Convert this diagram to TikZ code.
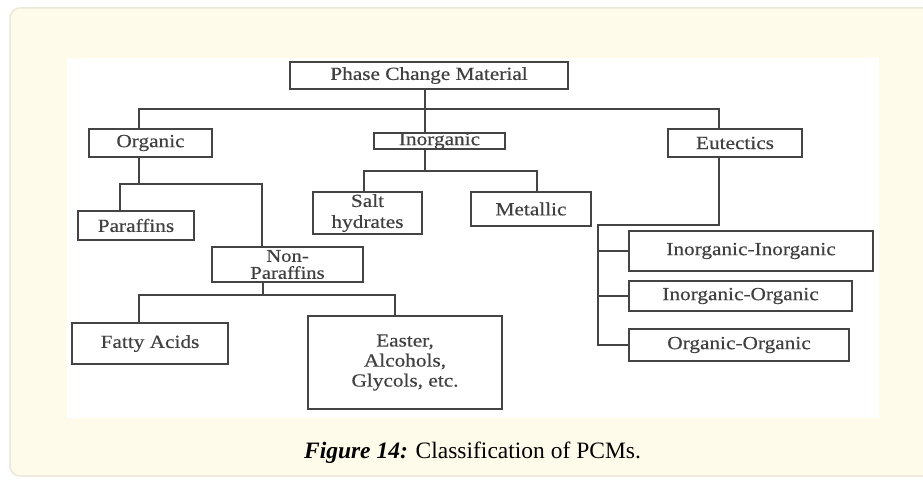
\documentclass[tikz,border=0pt]{standalone}
\usepackage{fontspec}
\setmainfont{Liberation Serif}
\newfontfamily\diagfont{Liberation Serif}[FakeStretch=1.15,FakeBold=0.4]
\definecolor{cream}{HTML}{FFFBEA}
\definecolor{panelborder}{HTML}{ECE8DA}
\definecolor{lineclr}{HTML}{444444}
\definecolor{txtclr}{HTML}{404040}
\begin{document}
\begin{tikzpicture}[x=1pt,y=-1pt,
  box/.style={draw=lineclr, line width=1.3pt, rectangle, inner sep=0pt, align=center,
    text=txtclr, font=\diagfont\fontsize{18.5}{21}\selectfont},
  conn/.style={draw=lineclr, line width=1.3pt}]
\useasboundingbox (0,0) rectangle (923,486);
\fill[white] (0,0) rectangle (923,486);
\draw[panelborder, fill=cream, line width=1.5pt, rounded corners=10pt] (10,8) rectangle (940,476);
\fill[white] (67,58) rectangle (879,418);
% boxes
\node[box, minimum width=278pt, minimum height=27pt] (pcm) at (429,75.5) {Phase Change Material};
\node[box, minimum width=123pt, minimum height=28pt] (org) at (150.5,143) {Organic};
\node[box, minimum width=131pt, minimum height=16pt] (inorg) at (439.5,141) {Inorganic};
\node[box, minimum width=134pt, minimum height=28pt] (eut) at (735,143) {Eutectics};
\node[box, minimum width=109pt, minimum height=42pt] (salt) at (367.5,213) {Salt\\hydrates};
\node[box, minimum width=120pt, minimum height=34pt] (metal) at (531,209) {Metallic};
\node[box, minimum width=116pt, minimum height=29pt] (par) at (136,225.5) {Paraffins};
\node[box, minimum width=151pt, minimum height=35pt, font=\diagfont\fontsize{18}{17}\selectfont] (nonpar) at (287.5,264.5) {Non-\\Paraffins};
\node[box, minimum width=156pt, minimum height=41pt] (fatty) at (150,343.5) {Fatty Acids};
\node[box, minimum width=194pt, minimum height=93pt, font=\diagfont\fontsize{18.5}{20}\selectfont] (easter) at (405,362.5) {Easter,\\Alcohols,\\Glycols, etc.};
\node[box, minimum width=244pt, minimum height=40pt] (ii) at (751,251) {Inorganic-Inorganic};
\node[box, minimum width=223pt, minimum height=30pt] (io) at (740.5,296) {Inorganic-Organic};
\node[box, minimum width=220pt, minimum height=32pt] (oo) at (739,345) {Organic-Organic};
% junction coordinates
\coordinate (bL) at (139,109);
\coordinate (bM) at (425,109);
\coordinate (bR) at (719,109);
\coordinate (iL) at (364,171);
\coordinate (iM) at (425,171);
\coordinate (iR) at (537,171);
\coordinate (oL) at (120,184);
\coordinate (oM) at (139,184);
\coordinate (oR) at (262,184);
\coordinate (nL) at (139,295);
\coordinate (nM) at (263,295);
\coordinate (nR) at (395,295);
\coordinate (eM) at (719,225);
\coordinate (eL) at (598,225);
% connectors
\draw[conn] (org.north -| bL) -- (bL) -- (bR) -- (eut.north -| bR);
\draw[conn] (pcm.south -| bM) -- (inorg.north -| bM);
\draw[conn] (inorg.south -| iM) -- (iM);
\draw[conn] (salt.north -| iL) -- (iL) -- (iR) -- (metal.north -| iR);
\draw[conn] (org.south -| oM) -- (oM);
\draw[conn] (par.north -| oL) -- (oL) -- (oR) -- (nonpar.north -| oR);
\draw[conn] (nonpar.south -| nM) -- (nM);
\draw[conn] (fatty.north -| nL) -- (nL) -- (nR) -- (easter.north -| nR);
\draw[conn] (eut.south -| eM) -- (eM) -- (eL) -- (oo.west -| eL) -- (oo.west);
\draw[conn] (ii.west -| eL) -- (ii.west);
\draw[conn] (io.west -| eL) -- (io.west);
% caption
\node[font=\fontsize{23.5}{26}\selectfont, text=black, inner sep=0pt] (cap) at (472.5,453) {\textbf{\textit{Figure 14:}} Classification of PCMs.};
\end{tikzpicture}
\end{document}
